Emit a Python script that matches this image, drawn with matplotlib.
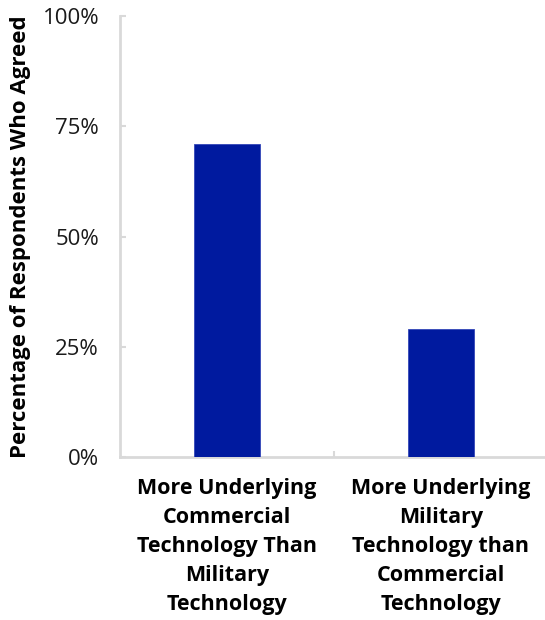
import matplotlib.pyplot as plt
import numpy as np

# Survey results: share of respondents who agreed
categories = [
    'More Underlying\nCommercial\nTechnology Than\nMilitary\nTechnology',
    'More Underlying\nMilitary\nTechnology than\nCommercial\nTechnology',
]
agreed_pct = [71, 29]
y_ticks = [0, 25, 50, 75, 100]

plt.rcParams['font.family'] = ['Open Sans', 'DejaVu Sans']

fig = plt.figure(figsize=(5.45, 6.2), dpi=100)
ax = fig.add_axes([0.220, 0.263, 0.785, 0.711])

x_pos = np.arange(len(categories))
ax.bar(x_pos, agreed_pct, 0.31, color='#001A9F', edgecolor='#3346b8', linewidth=0.6, zorder=3)

ax.set_xlim(-0.5, 1.5)
ax.set_ylim(0, 100)
ax.set_yticks(y_ticks)
ax.set_yticklabels([f'{t}%' for t in y_ticks], fontsize=16, color='#1a1a1a')
ax.tick_params(axis='y', direction='in', length=4, width=1.5, color='#d9d9d9', pad=15)

# category labels under each bar, tick marks between categories
ax.set_xticks(x_pos)
ax.set_xticklabels(categories, fontsize=15.5, fontweight='bold', linespacing=1.5)
ax.tick_params(axis='x', which='major', length=0, pad=15)
ax.set_xticks([0.5], minor=True)
ax.tick_params(axis='x', which='minor', direction='in', length=4, width=1.5, color='#d9d9d9')

ax.set_ylabel('Percentage of Respondents Who Agreed', fontsize=16, fontweight='bold', labelpad=8)

for side in ['top', 'right']:
    ax.spines[side].set_visible(False)
for side in ['left', 'bottom']:
    ax.spines[side].set_color('#d9d9d9')
    ax.spines[side].set_linewidth(2)

plt.savefig('out.png', dpi=100)
plt.close()
